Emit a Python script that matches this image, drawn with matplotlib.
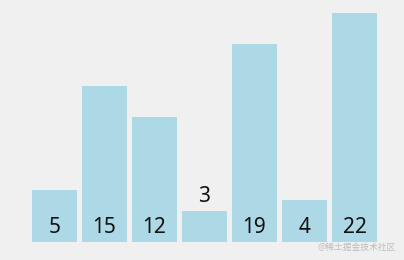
import matplotlib.pyplot as plt

values = [5, 15, 12, 3, 19, 4, 22]
labels = [str(v) for v in values]

bg = '#f0f0f0'
fig = plt.figure(figsize=(4.04, 2.60), dpi=100, facecolor=bg)
ax = fig.add_axes([0, 0, 1, 1])
ax.set_facecolor(bg)

x = range(len(values))
ax.bar(x, values, width=0.9, color='#add8e6')

# labels sit at the bottom of the bar, or above it when the bar is too short
for i, v in enumerate(values):
    y = v + 1.4 if v < 4 else 1.35
    ax.text(i, y, labels[i], ha='center', va='center', fontsize=15,
            color='#111111', family='Noto Sans')

ax.set_xlim(-1.09, 6.99)
ax.set_ylim(-1.73, 23.27)
ax.axis('off')

fig.text(0.98, 0.05, '@稀土掘金技术社区', ha='right', va='center', fontsize=6.3,
         color='#bdbdbd', family=['Noto Sans CJK SC', 'DejaVu Sans'])

fig.savefig('out.png', dpi=100, facecolor=bg)
